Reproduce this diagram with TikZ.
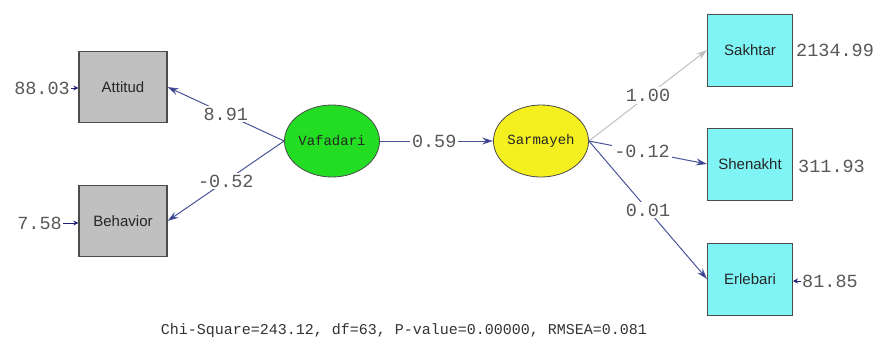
\documentclass[tikz,border=0pt]{standalone}
\usepackage{fontspec}
\setmainfont{Liberation Sans}
\newfontfamily\monof{Liberation Mono}
\usetikzlibrary{arrows.meta,shapes.geometric}
\definecolor{navy}{HTML}{1E1E78}
\definecolor{pathc}{HTML}{4A5498}
\definecolor{numc}{HTML}{585858}
\definecolor{boxgray}{HTML}{C0C0C0}
\definecolor{boxcyan}{HTML}{80F4F4}
\definecolor{ellgreen}{HTML}{22DD22}
\definecolor{ellyellow}{HTML}{F4F020}
\begin{document}
\begin{tikzpicture}[x=1pt,y=-1pt,
  obsgray/.style={draw=black!70,line width=1.1pt,fill=boxgray,minimum width=88pt,minimum height=71pt,inner sep=0pt,text=black!85,font=\fontsize{15}{15}\selectfont},
  obscyan/.style={draw=black!70,line width=1pt,fill=boxcyan,minimum width=85pt,minimum height=72pt,inner sep=0pt,text=black!85,font=\fontsize{15}{15}\selectfont},
  latent/.style={ellipse,draw=black!70,line width=0.8pt,minimum width=88pt,minimum height=72pt,inner sep=0pt,text=black!85,font=\monof\fontsize{14}{14}\selectfont},
  num/.style={text=numc,font=\monof\fontsize{18.5}{18.5}\selectfont,inner sep=1pt},
  elab/.style={num,fill=white,inner sep=2pt},
  pth/.style={draw=pathc,line width=1pt,-{Stealth[length=11pt,width=7pt,fill=navy]}},
  errp/.style={draw=navy,line width=1pt,-{Stealth[length=5pt,width=5pt,fill=navy]}}
]
\useasboundingbox (0,0) rectangle (873,349);
% observed
\node[obsgray] (att) at (123,87) {Attitud};
\node[obsgray] (beh) at (123,221) {Behavior};
\node[obscyan] (sak) at (750,50) {Sakhtar};
\node[obscyan] (she) at (750,164) {Shenakht};
\node[obscyan] (erl) at (750,279) {Erlebari};
% latent
\node[latent,fill=ellgreen] (vaf) at (332,141) {Vafadari};
\node[latent,fill=ellyellow] (sar) at (541,141) {Sarmayeh};
% error variances
\node[num,anchor=east] (e1) at (71,88) {88.03};
\node[num,anchor=east] (e2) at (63,223) {7.58};
\node[num,anchor=west,fill=white] (e3) at (795,50) {2134.99};
\node[num,anchor=west] (e4) at (797,166) {311.93};
\node[num,anchor=west] (e5) at (801,281) {81.85};
\draw[errp] (e1.east) -- (att.west|-e1.east);
\draw[errp] (e2.east) -- (beh.west|-e2.east);
\draw[errp] (e5.west) -- (erl.east|-e5.west);
% paths
\draw[pth] (vaf.west) -- node[elab,pos=0.5] {8.91} (att.east);
\draw[pth] (vaf.west) -- node[elab,pos=0.5] {-0.52} (beh.east);
\draw[pth] (vaf.east) -- node[elab,pos=0.48] {0.59} (sar.west);
\draw[draw=black!25,line width=1pt,-{Stealth[length=11pt,width=7pt,fill=black!25]}] (sar.east) -- node[elab,pos=0.5] {1.00} (sak.west);
\draw[pth] (sar.east) -- node[elab,pos=0.45] {-0.12} (she.west);
\draw[pth] (sar.east) -- node[elab,pos=0.5] {0.01} (erl.west);
% fit statistics
\node[font=\monof\fontsize{15}{15}\selectfont,text=black!80] (fit) at (404,331) {Chi-Square=243.12, df=63, P-value=0.00000, RMSEA=0.081};
\end{tikzpicture}
\end{document}
